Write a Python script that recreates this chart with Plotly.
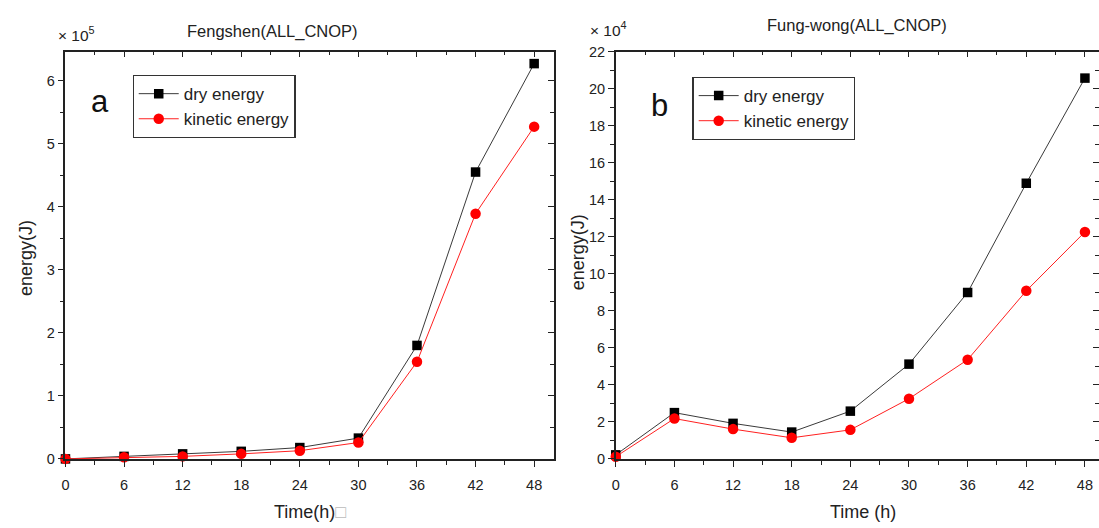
import plotly.graph_objects as go

# ---------------- data ----------------
hours = [0, 6, 12, 18, 24, 30, 36, 42, 48]
x_ticks = [0, 6, 12, 18, 24, 30, 36, 42, 48]

# Fengshen (x 1e5 J)
fengshen_dry = [0.0, 0.04, 0.08, 0.12, 0.18, 0.33, 1.80, 4.55, 6.27]
fengshen_kinetic = [0.0, 0.025, 0.04, 0.08, 0.13, 0.26, 1.54, 3.89, 5.27]

# Fung-wong (x 1e4 J)
fungwong_dry = [0.22, 2.50, 1.92, 1.45, 2.58, 5.12, 8.99, 14.89, 20.57]
fungwong_kinetic = [0.12, 2.18, 1.61, 1.14, 1.57, 3.25, 5.36, 9.08, 12.26]

left_yticks = [0, 1, 2, 3, 4, 5, 6]
right_yticks = [0, 2, 4, 6, 8, 10, 12, 14, 16, 18, 20, 22]

W, H = 1099, 528
FONT = "Liberation Sans, Arial, sans-serif"

def px(x):
    return x / W

def py(y):
    return 1 - y / H

fig = go.Figure()

dry_style = dict(mode="lines+markers", line=dict(color="#3a3a3a", width=1),
                 marker=dict(symbol="square", size=9.5, color="black"), cliponaxis=False)
kin_style = dict(mode="lines+markers", line=dict(color="#ff2020", width=1),
                 marker=dict(symbol="circle", size=10.5, color="#ff0000"), cliponaxis=False)

fig.add_trace(go.Scatter(x=hours, y=fengshen_dry, name="dry energy", xaxis="x", yaxis="y",
                         legend="legend", **dry_style))
fig.add_trace(go.Scatter(x=hours, y=fengshen_kinetic, name="kinetic energy", xaxis="x", yaxis="y",
                         legend="legend", **kin_style))
fig.add_trace(go.Scatter(x=hours, y=fungwong_dry, name="dry energy", xaxis="x2", yaxis="y2",
                         legend="legend2", **dry_style))
fig.add_trace(go.Scatter(x=hours, y=fungwong_kinetic, name="kinetic energy", xaxis="x2", yaxis="y2",
                         legend="legend2", **kin_style))

ydom = [py(465), py(45)]
left_xdom = [px(61.7), px(551.7)]
right_xdom = [px(614), 1.0]
left_xrange = [0, 50]
right_xrange = [0, (W - 614) / 9.81]
left_yrange = [0, 6.46]
right_yrange = [0, 22]

tickfont = dict(family=FONT, size=14.5, color="#222")
common = dict(showgrid=False, zeroline=False, showline=True, linecolor="#222", linewidth=1.6,
              tickcolor="#222", tickwidth=1.4, tickfont=tickfont)

def main_x(dom, rng, anchor):
    return dict(domain=dom, range=rng, anchor=anchor, tickmode="array", tickvals=x_ticks,
                ticks="outside", ticklen=6, ticklabelstandoff=6,
                minor=dict(ticks="outside", dtick=3, tick0=0, ticklen=4, tickcolor="#222", tickwidth=1.2),
                **common)

def main_y(rng, anchor, vals, minor_dt):
    return dict(domain=ydom, range=rng, anchor=anchor, tickmode="array", tickvals=vals,
                ticks="outside", ticklen=6,
                minor=dict(ticks="outside", dtick=minor_dt, tick0=0, ticklen=4, tickcolor="#222", tickwidth=1.2),
                **common)

def top_x(over, rng, anchor):
    return dict(overlaying=over, side="top", range=rng, anchor=anchor, tickmode="array",
                tickvals=x_ticks, ticks="inside", ticklen=6, showticklabels=False,
                minor=dict(ticks="inside", dtick=3, tick0=0, ticklen=4, tickcolor="#222", tickwidth=1.2),
                **common)

def right_y(over, rng, anchor, vals, minor_dt):
    return dict(overlaying=over, side="right", range=rng, anchor=anchor, tickmode="array",
                tickvals=vals, ticks="inside", ticklen=6, showticklabels=False,
                minor=dict(ticks="inside", dtick=minor_dt, tick0=0, ticklen=4, tickcolor="#222", tickwidth=1.2),
                **common)

def ann(text, x, y, size, xanchor="center", angle=0, color="#222"):
    return dict(text=text, x=px(x), y=py(y), xref="paper", yref="paper", xanchor=xanchor,
                yanchor="middle", textangle=angle, showarrow=False,
                font=dict(family=FONT, size=size, color=color))

annotations = [
    ann("Fengshen(ALL_CNOP)", 269, 24, 16.5),
    ann("Fung-wong(ALL_CNOP)", 856, 18, 16.5),
    ann("× 10<sup>5</sup>", 52, 27, 15.5, xanchor="left"),
    ann("× 10<sup>4</sup>", 586, 22, 15.5, xanchor="left"),
    ann("energy(J)", 22, 258, 18, angle=-90),
    ann("energy(J)", 576, 252, 18, angle=-90),
    ann("Time(h)<span style='color:#bbb'>□</span>", 307, 520, 18),
    ann("Time (h)", 862, 520, 18),
    ann("a", 96, 96, 31, color="#111"),
    ann("b", 658, 101, 31, color="#111"),
]

legend_common = dict(bgcolor="white", bordercolor="#333", borderwidth=1.2,
                     font=dict(family=FONT, size=17, color="#222"), xanchor="left", yanchor="top",
                     tracegroupgap=0, itemwidth=40)

fig.update_layout(
    width=W, height=H,
    margin=dict(l=0, r=0, t=0, b=0),
    paper_bgcolor="white", plot_bgcolor="white",
    showlegend=True,
    xaxis=main_x(left_xdom, left_xrange, "y"),
    yaxis=main_y(left_yrange, "x", left_yticks, 0.5),
    xaxis2=main_x(right_xdom, right_xrange, "y2"),
    yaxis2=main_y(right_yrange, "x2", right_yticks, 1),
    xaxis3=top_x("x", left_xrange, "y"),
    yaxis3=right_y("y", left_yrange, "x", left_yticks, 0.5),
    xaxis4=top_x("x2", right_xrange, "y2"),
    yaxis4=right_y("y2", right_yrange, "x2", right_yticks, 1),
    legend=dict(x=px(129), y=py(69), **legend_common),
    legend2=dict(x=px(691), y=py(71), **legend_common),
    annotations=annotations,
)

# invisible traces so overlay axes are drawn
fig.add_trace(go.Scatter(x=[None], y=[None], xaxis="x3", yaxis="y3", showlegend=False, hoverinfo="skip"))
fig.add_trace(go.Scatter(x=[None], y=[None], xaxis="x4", yaxis="y4", showlegend=False, hoverinfo="skip"))

fig.write_html("out.html")
